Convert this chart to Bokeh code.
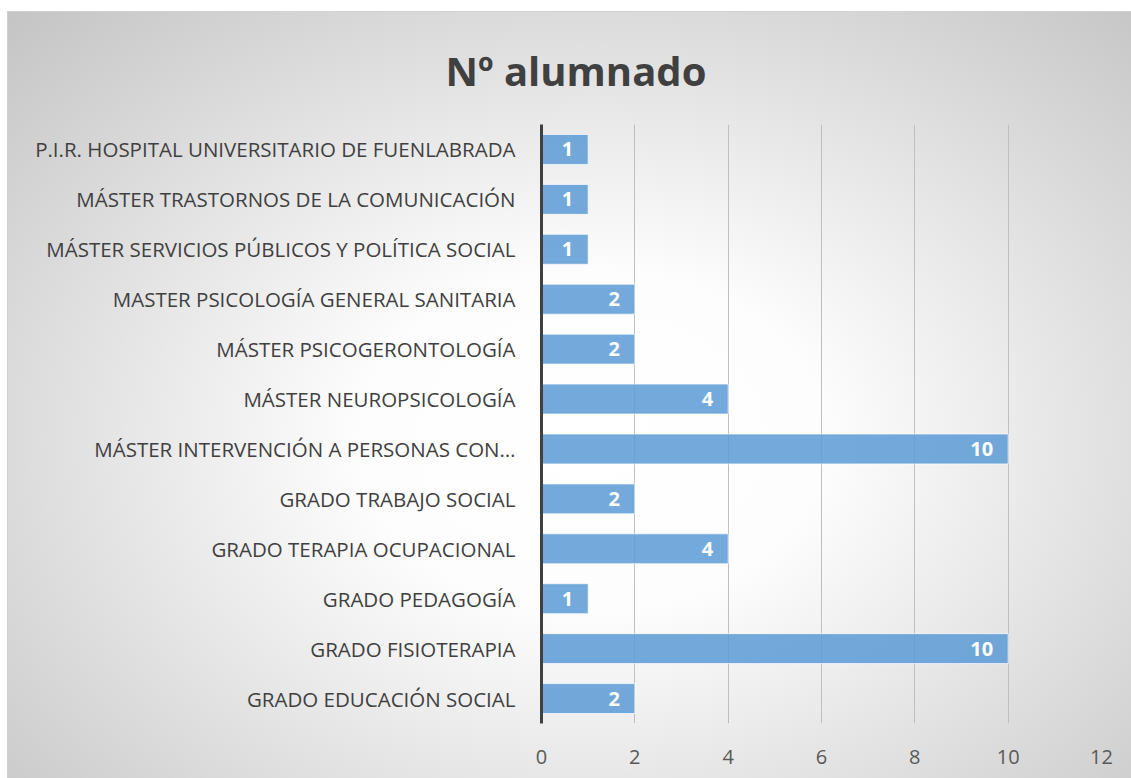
from bokeh.plotting import figure
from bokeh.models import ColumnDataSource, FactorRange, Range1d, Title, FixedTicker, LabelSet
from bokeh.embed import file_html
from bokeh.resources import INLINE
from bokeh.core.properties import value

categories = [
    "GRADO EDUCACIÓN SOCIAL",
    "GRADO FISIOTERAPIA",
    "GRADO PEDAGOGÍA",
    "GRADO TERAPIA OCUPACIONAL",
    "GRADO TRABAJO SOCIAL",
    "MÁSTER INTERVENCIÓN A PERSONAS CON…",
    "MÁSTER NEUROPSICOLOGÍA",
    "MÁSTER PSICOGERONTOLOGÍA",
    "MASTER PSICOLOGÍA GENERAL SANITARIA",
    "MÁSTER SERVICIOS PÚBLICOS Y POLÍTICA SOCIAL",
    "MÁSTER TRASTORNOS DE LA COMUNICACIÓN",
    "P.I.R. HOSPITAL UNIVERSITARIO DE FUENLABRADA",
]
values = [2, 10, 1, 4, 2, 10, 4, 2, 2, 1, 1, 1]
x_ticks = [0, 2, 4, 6, 8, 10, 12]
title_text = "Nº alumnado"

W, H = 1124, 767
FONT = "Open Sans"

source = ColumnDataSource(dict(cat=categories, val=values, lab=[str(v) for v in values]))

p = figure(
    width=W, height=H,
    y_range=FactorRange(factors=categories),
    x_range=Range1d(0, 12),
    output_backend="svg", toolbar_location=None,
    min_border_left=533, min_border_right=31, min_border_top=112, min_border_bottom=56,
)
p.styles = {
    "margin-left": "7px",
    "margin-top": "11px",
    "background-image": "radial-gradient(ellipse farthest-corner at 52% 56%, #ffffff 0%, #fdfdfd 28%, #dadada 72%, #c4c4c4 100%)",
    "border-top": "1px solid #d0d0d0",
    "border-left": "1px solid #d0d0d0",
    "box-sizing": "border-box",
}
p.background_fill_color = None
p.border_fill_color = None
p.outline_line_color = None

p.hbar(y="cat", right="val", left=0, height=0.6, source=source,
       fill_color="#5B9BD5", fill_alpha=0.85, line_color="#ffffff", line_alpha=0.7, line_width=1)

labels = LabelSet(x="val", y="cat", text="lab", source=source, x_offset=-15,
                  text_align="right", text_baseline="middle", text_color="white",
                  text_font=value(FONT), text_font_style="bold", text_font_size="20px")
p.add_layout(labels)

p.xgrid.grid_line_color = "#bfbfbf"
p.xgrid.grid_line_width = 1
p.xgrid.ticker = FixedTicker(ticks=x_ticks)
p.ygrid.grid_line_color = None

p.xaxis.ticker = FixedTicker(ticks=x_ticks)
p.xaxis.axis_line_color = None
p.xaxis.major_tick_line_color = None
p.xaxis.minor_tick_line_color = None
p.xaxis.major_label_text_font = FONT
p.xaxis.major_label_text_font_size = "20px"
p.xaxis.major_label_text_color = "#595959"
p.xaxis.major_label_standoff = 20

p.yaxis.axis_line_color = "#404040"
p.yaxis.axis_line_width = 3
p.yaxis.major_tick_line_color = None
p.yaxis.minor_tick_line_color = None
p.yaxis.major_label_text_font = FONT
p.yaxis.major_label_text_font_size = "20.5px"
p.yaxis.major_label_text_color = "#404040"
p.yaxis.major_label_standoff = 20

title = Title(text=title_text, align="left", offset=-96, standoff=54,
              text_font=FONT, text_font_style="bold", text_font_size="40px",
              text_color="#404040")
p.add_layout(title, "above")

open("out.html", "w").write(file_html(p, INLINE))
